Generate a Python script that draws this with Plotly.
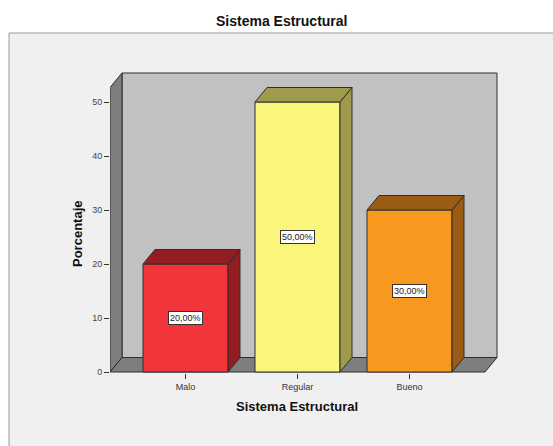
import plotly.graph_objects as go

# ---- data ----
categories = ["Malo", "Regular", "Bueno"]
values = [20, 50, 30]
labels = ["20,00%", "50,00%", "30,00%"]
front_colors = ["#f2343b", "#f9f67b", "#f8981f"]
side_colors = ["#921e23", "#9e9c4c", "#9a5c14"]
y_ticks = [0, 10, 20, 30, 40, 50]

# ---- geometry (axis units) ----
W, H = 553, 446
ML, MR, MT, MB = 110, 53, 70, 73
XPX = 112.0          # px per category unit
YPX = 5.4            # px per percent
x_lo = -75.5 / XPX
x_hi = x_lo + (W - ML - MR) / XPX
y_lo = -1.0 / YPX
y_hi = y_lo + (H - MT - MB) / YPX
dx = 12 / XPX
dy = 14.5 / YPX
wall_right = x_hi - 3 / XPX
wall_top = y_hi - 3 / YPX
bw = 85 / XPX / 2
edge = "#2e2e2e"

fig = go.Figure()


def poly(xs, ys, fill, lw=1):
    fig.add_trace(go.Scatter(
        x=xs + [xs[0]], y=ys + [ys[0]], mode="lines", fill="toself",
        fillcolor=fill, line=dict(color=edge, width=lw),
        hoverinfo="skip", showlegend=False))


x0 = x_lo
# back wall
poly([x0 + dx, wall_right, wall_right, x0 + dx], [dy, dy, wall_top, wall_top], "#c1c1c1")
# side wall
poly([x0, x0 + dx, x0 + dx, x0], [0, dy, wall_top, wall_top - dy], "#7e7e7e")
# floor
poly([x0, wall_right - dx, wall_right, x0 + dx], [0, 0, dy, dy], "#7e7e7e")

# bars
for i, v in enumerate(values):
    l, r = i - bw, i + bw
    poly([l, r, r, l], [0, 0, v, v], front_colors[i])
    poly([r, r + dx, r + dx, r], [0, dy, v + dy, v], side_colors[i])
    poly([l, r, r + dx, l + dx], [v, v, v + dy, v + dy], side_colors[i])
    fig.add_annotation(x=i, y=v / 2, text=labels[i], showarrow=False,
                       font=dict(family="Liberation Sans, Arial", size=9, color="#222"),
                       bgcolor="white", bordercolor="#333", borderwidth=1, borderpad=1)

# paper helpers
fx = lambda p: (p - ML) / (W - ML - MR)
fy = lambda p: (H - MB - p) / (H - MT - MB)

# outer panel
fig.add_shape(type="rect", xref="paper", yref="paper",
              x0=fx(9), x1=fx(W + 20), y0=fy(H + 20), y1=fy(33),
              fillcolor="#f0f0f0", line=dict(color="#9a9a9a", width=1), layer="below")

# titles
tfont = dict(family="Liberation Sans, Arial", color="#111")
fig.add_annotation(xref="paper", yref="paper", x=fx(282), y=fy(21),
                   text="<b>Sistema Estructural</b>", showarrow=False,
                   xanchor="center", yanchor="middle", font=dict(size=14, **tfont))
fig.add_annotation(xref="paper", yref="paper", x=fx(297), y=fy(406),
                   text="<b>Sistema Estructural</b>", showarrow=False,
                   xanchor="center", yanchor="middle", font=dict(size=13, **tfont))
fig.add_annotation(xref="paper", yref="paper", x=fx(77), y=fy(234),
                   text="<b>Porcentaje</b>", showarrow=False, textangle=-90,
                   xanchor="center", yanchor="middle", font=dict(size=13, **tfont))

fig.update_layout(
    width=W, height=H,
    margin=dict(l=ML, r=MR, t=MT, b=MB),
    paper_bgcolor="white", plot_bgcolor="rgba(0,0,0,0)",
    font=dict(family="Liberation Sans, Arial", size=9, color="#333"),
    showlegend=False,
)
fig.update_xaxes(range=[x_lo, x_hi], tickvals=[0, 1, 2], ticktext=categories,
                 ticks="outside", ticklen=5, tickcolor="#333", showgrid=False,
                 zeroline=False, showline=False, fixedrange=True,
                 tickfont=dict(size=9, color="#333"))
fig.update_yaxes(range=[y_lo, y_hi], tickvals=y_ticks, ticks="outside", ticklen=5,
                 tickcolor="#333", showgrid=False, zeroline=False, showline=False,
                 fixedrange=True,
                 tickfont=dict(size=9, color="#444"))

fig.write_html("out.html")
